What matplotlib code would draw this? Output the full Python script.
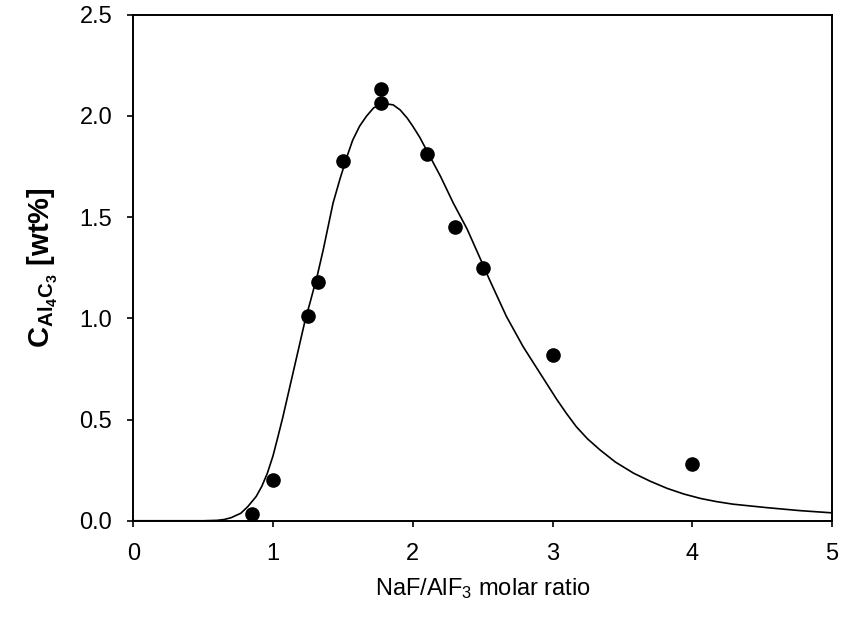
import matplotlib
matplotlib.use("Agg")
import matplotlib.pyplot as plt

plt.rcParams['font.family'] = ['Liberation Sans', 'DejaVu Sans']
plt.rcParams['mathtext.fontset'] = 'custom'
plt.rcParams['mathtext.rm'] = 'Liberation Sans'
plt.rcParams['mathtext.it'] = 'Liberation Sans:italic'
plt.rcParams['mathtext.bf'] = 'Liberation Sans:bold'

# measured points
ratio = [0.85, 1.0, 1.25, 1.32, 1.5, 1.77, 1.77, 2.1, 2.3, 2.5, 3.0, 4.0]
c_wt = [0.035, 0.2, 1.01, 1.18, 1.78, 2.135, 2.065, 1.81, 1.45, 1.25, 0.82, 0.28]

# fitted curve
fit_x = [0, 0.5, 0.6, 0.65, 0.7, 0.77, 0.82, 0.88, 0.92, 0.96, 1.0, 1.03, 1.07,
         1.10, 1.14, 1.17, 1.23, 1.27, 1.32, 1.36, 1.43, 1.48, 1.53, 1.57, 1.62,
         1.67, 1.72, 1.77, 1.81, 1.86, 1.91, 1.96, 2.0, 2.05, 2.10, 2.20, 2.29,
         2.39, 2.48, 2.55, 2.67, 2.79, 2.91, 3.03, 3.10, 3.17, 3.25, 3.34, 3.45,
         3.58, 3.70, 3.82, 3.94, 4.06, 4.17, 4.29, 4.53, 4.77, 5.0]
fit_y = [0, 0, 0.002, 0.006, 0.015, 0.037, 0.07, 0.12, 0.17, 0.235, 0.32, 0.40,
         0.51, 0.60, 0.72, 0.81, 0.99, 1.09, 1.22, 1.34, 1.57, 1.69, 1.80, 1.88,
         1.95, 2.00, 2.04, 2.057, 2.06, 2.055, 2.03, 1.99, 1.95, 1.895, 1.83, 1.70,
         1.57, 1.44, 1.30, 1.19, 1.01, 0.86, 0.73, 0.60, 0.53, 0.465, 0.405, 0.35,
         0.29, 0.235, 0.195, 0.16, 0.132, 0.11, 0.095, 0.082, 0.065, 0.05, 0.039]

fig = plt.figure(figsize=(8.43, 6.17), dpi=100)
ax = fig.add_axes([0.158, 0.156, 0.829, 0.820])

ax.plot(fit_x, fit_y, color='black', linewidth=1.2)
ax.plot(ratio, c_wt, 'o', color='black', markersize=9.5, clip_on=False)

ax.set_xlim(0, 5)
ax.set_ylim(0, 2.5)
ax.set_xticks([0, 1, 2, 3, 4, 5])
ax.set_yticks([0, 0.5, 1.0, 1.5, 2.0, 2.5])
ax.set_yticklabels(['0.0', '0.5', '1.0', '1.5', '2.0', '2.5'])
ax.tick_params(direction='out', length=4, width=1.2, labelsize=17)
ax.tick_params(axis='x', pad=12)
ax.tick_params(axis='y', pad=11)
for s in ax.spines.values():
    s.set_linewidth(1.4)

ax.set_xlabel('NaF/AlF$_3$ molar ratio', fontsize=17, labelpad=8)
ax.set_ylabel(r'$\mathbf{C}_{\mathbf{Al_4C_3}}$ [wt%]', fontsize=21,
              fontweight='bold', labelpad=14)

fig.savefig('out.png', dpi=100, facecolor='white')
